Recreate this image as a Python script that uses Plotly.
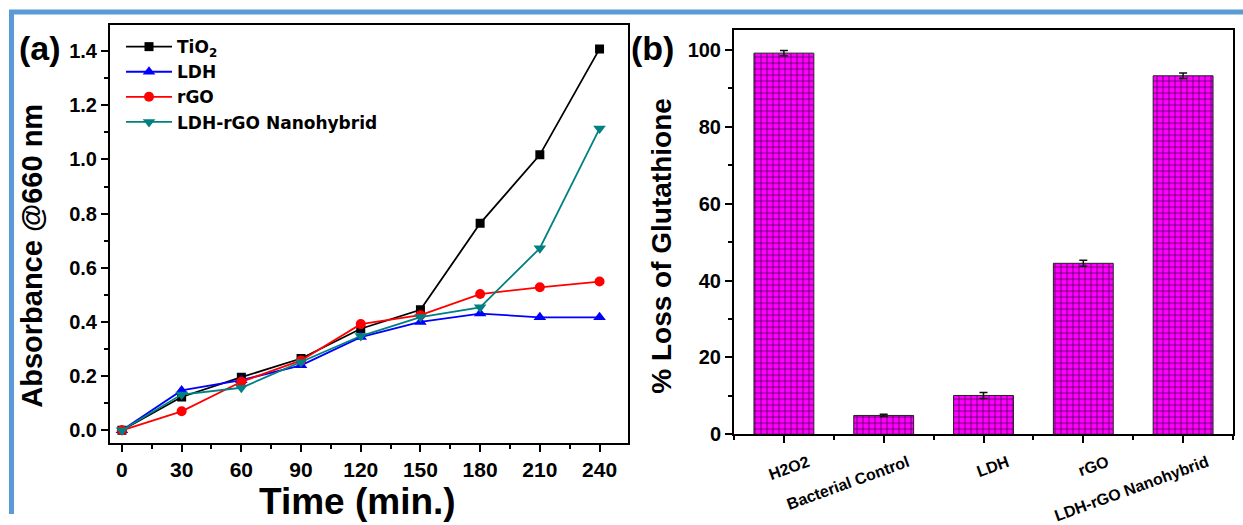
import plotly.graph_objects as go

# ---------------- data ----------------
time_min = [0, 30, 60, 90, 120, 150, 180, 210, 240]
tio2 = [0.0, 0.123, 0.196, 0.265, 0.375, 0.445, 0.764, 1.017, 1.408]
ldh = [0.0, 0.147, 0.185, 0.240, 0.344, 0.400, 0.431, 0.417, 0.417]
rgo = [0.0, 0.070, 0.179, 0.258, 0.392, 0.425, 0.503, 0.528, 0.549]
ldh_rgo = [0.0, 0.132, 0.157, 0.252, 0.348, 0.418, 0.454, 0.672, 1.114]

bar_categories = ["H2O2", "Bacterial Control", "LDH", "rGO", "LDH-rGO Nanohybrid"]
glutathione_loss = [99.2, 4.9, 10.1, 44.5, 93.3]
glutathione_err = [0.7, 0.3, 0.8, 0.8, 0.7]

x_ticks = [0, 30, 60, 90, 120, 150, 180, 210, 240]
y_ticks_a = [0.0, 0.2, 0.4, 0.6, 0.8, 1.0, 1.2, 1.4]
y_ticks_b = [0, 20, 40, 60, 80, 100]

W, H = 1243, 525
H_EFF = 512.5  # effective rendered height of the paper
FONT = "Liberation Sans, Arial, sans-serif"


def px_x(p):
    return p / W


def px_y(p):
    return max(0.0, 1 - p / H_EFF)


fig = go.Figure()

series = [
    ("TiO<sub>2</sub>", tio2, "#000000", "square", 9),
    ("LDH", ldh, "#0000FF", "triangle-up", 11),
    ("rGO", rgo, "#FF0000", "circle", 10),
    ("LDH-rGO Nanohybrid", ldh_rgo, "#008080", "triangle-down", 11),
]
for name, vals, col, sym, size in series:
    fig.add_trace(go.Scatter(
        x=time_min, y=vals, name=name, mode="lines+markers",
        line=dict(color=col, width=1.8),
        marker=dict(symbol=sym, size=size, color=col),
        xaxis="x", yaxis="y",
    ))

bar_pos = list(range(len(bar_categories)))
fig.add_trace(go.Bar(
    x=bar_pos, y=glutathione_loss, width=0.6, showlegend=False,
    marker=dict(
        color="#FF00FF",
        line=dict(color="#222222", width=1),
        pattern=dict(shape="+", size=6, solidity=0.22,
                     fgcolor="#3a0040", bgcolor="#FF00FF", fillmode="replace"),
    ),
    error_y=dict(type="data", array=glutathione_err, color="#111111",
                 thickness=1.5, width=4),
    xaxis="x2", yaxis="y2",
))

axis_common = dict(
    showline=True, linecolor="black", linewidth=2, mirror=True,
    ticks="outside", ticklen=7, tickwidth=2, tickcolor="black",
    showgrid=False, zeroline=False,
)
minor_common = dict(ticks="outside", ticklen=4, tickwidth=2, tickcolor="black")

fig.update_layout(
    width=W, height=H,
    margin=dict(l=0, r=0, t=0, b=0),
    paper_bgcolor="white", plot_bgcolor="white",
    font=dict(family=FONT, color="black"),
    xaxis=dict(
        domain=[px_x(110), px_x(628)], range=[-6, 254.3],
        tickvals=x_ticks, tickfont=dict(size=21, weight="bold"),
        minor=dict(dtick=15, tick0=0, **minor_common),
        anchor="y", **axis_common,
    ),
    yaxis=dict(
        domain=[px_y(442), px_y(25)], range=[-0.048, 1.496],
        tickvals=y_ticks_a, tickformat=".1f",
        tickfont=dict(size=20, weight="bold"),
        minor=dict(dtick=0.1, tick0=0, **minor_common),
        anchor="x", **axis_common,
    ),
    xaxis2=dict(
        domain=[px_x(734), px_x(1233)], range=[-0.5, 4.5],
        tickvals=bar_pos, ticktext=bar_categories, tickangle=-20,
        tickfont=dict(size=16, weight="bold"),
        ticklabelshift=24, ticklabelstandoff=4,
        minor=dict(dtick=1, tick0=0.5, **minor_common),
        anchor="y2", **axis_common,
    ),
    yaxis2=dict(
        domain=[px_y(433), px_y(30)], range=[0, 105.2],
        tickvals=y_ticks_b,
        tickfont=dict(size=20, weight="bold"),
        minor=dict(dtick=10, tick0=0, **minor_common),
        anchor="x2", **axis_common,
    ),
    legend=dict(
        x=px_x(121), y=px_y(29), xanchor="left", yanchor="top",
        bgcolor="rgba(0,0,0,0)", borderwidth=0,
        font=dict(size=17, weight="bold", family="DejaVu Sans, Liberation Sans, sans-serif"),
        itemwidth=46, tracegroupgap=0,
    ),
    showlegend=True,
)

annotations = [
    dict(text="<b>(a)</b>", x=px_x(40), y=px_y(48), font=dict(size=34)),
    dict(text="<b>(b)</b>", x=px_x(652), y=px_y(48), font=dict(size=34)),
    dict(text="<b>Absorbance @660 nm</b>", x=px_x(32), y=px_y(255), textangle=-90,
         font=dict(size=29)),
    dict(text="<b>Time (min.)</b>", x=px_x(357), y=px_y(500), font=dict(size=37)),
    dict(text="<b>% Loss of Glutathione</b>", x=px_x(662), y=px_y(245), textangle=-90,
         font=dict(size=28)),
]
for a in annotations:
    a.update(xref="paper", yref="paper", showarrow=False,
             xanchor="center", yanchor="middle")
fig.update_layout(annotations=annotations)

# blue outer frame of the figure
fig.update_layout(shapes=[
    dict(type="line", xref="paper", yref="paper", x0=px_x(9), x1=1.0,
         y0=px_y(12), y1=px_y(12), line=dict(color="#5B9BD5", width=5)),
    dict(type="line", xref="paper", yref="paper", x0=px_x(11.5), x1=px_x(11.5),
         y0=px_y(10), y1=0.0, line=dict(color="#5B9BD5", width=5)),
])

fig.write_html("out.html")
